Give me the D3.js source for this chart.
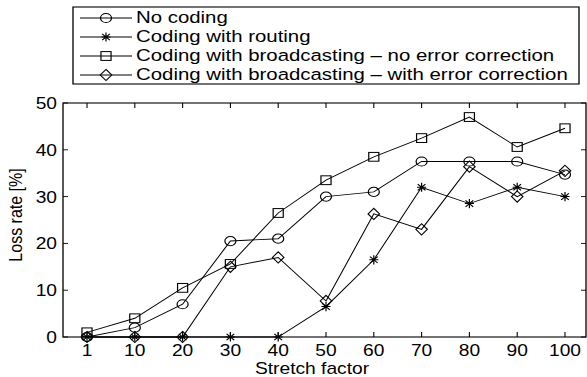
<!DOCTYPE html>
<html>
<head>
<meta charset="utf-8">
<script src="https://cdn.jsdelivr.net/npm/d3@7"></script>
<style>
  body { margin: 0; background: #fff; }
  text { font-family: "Liberation Sans", Arial, sans-serif; fill: #000; }
</style>
</head>
<body>
<svg id="chart"></svg>
<script>
// data
const stretch = ["1", "10", "20", "30", "40", "50", "60", "70", "80", "90", "100"];
const noCoding = [0, 2, 7, 20.5, 21, 30, 31, 37.5, 37.5, 37.5, 34.7];
const routing = [0, 0, 0, 0, 0, 6.5, 16.5, 32, 28.5, 32, 30];
const bcastNoEC = [1, 4, 10.5, 15.6, 26.5, 33.5, 38.5, 42.5, 47, 40.6, 44.6];
const bcastEC = [0, 0, 0, 15, 17, 7.7, 26.3, 23, 36.4, 30, 35.5];
const yTicks = [0, 10, 20, 30, 40, 50];

const series = [
  {name: "No coding", values: noCoding, marker: "circle"},
  {name: "Coding with routing", values: routing, marker: "star"},
  {name: "Coding with broadcasting \u2013 no error correction", values: bcastNoEC, marker: "square"},
  {name: "Coding with broadcasting \u2013 with error correction", values: bcastEC, marker: "diamond"}
];

// the picture is stretched sideways, so draw in a narrower frame and scale x
const sx = 1.2;
const width = 587;
const height = 377;
const marginTop = 103;
const marginBottom = 40;
const plotLeft = 63 / sx;
const plotRight = 586 / sx;

const svg = d3.select("#chart")
  .attr("width", width)
  .attr("height", height)
  .attr("viewBox", [0, 0, width, height]);

const g = svg.append("g").attr("transform", `scale(${sx},1)`);

const x = d3.scalePoint()
  .domain(stretch)
  .range([87 / sx, 565 / sx]);

const y = d3.scaleLinear()
  .domain([0, 50])
  .range([height - marginBottom, marginTop]);

function drawMarker(sel, type) {
  if (type === "circle") {
    sel.append("circle").attr("r", 4.6)
      .attr("fill", "none").attr("stroke", "#000");
  } else if (type === "square") {
    sel.append("rect").attr("x", -4.2).attr("y", -4.4).attr("width", 8.4).attr("height", 8.8)
      .attr("fill", "none").attr("stroke", "#000");
  } else if (type === "diamond") {
    sel.append("path").attr("d", "M0,-5.6L4.8,0L0,5.6L-4.8,0Z")
      .attr("fill", "none").attr("stroke", "#000");
  } else {
    sel.append("path").attr("d", "M0,-4.6V4.6M-3.8,0H3.8M-3.2,-3.2L3.2,3.2M-3.2,3.2L3.2,-3.2")
      .attr("fill", "none").attr("stroke", "#000");
  }
}

// ticks (inside, on all four sides)
const tickLen = 5;
const ticksG = g.append("g").attr("stroke", "#000").attr("stroke-width", 0.9);
stretch.forEach(s => {
  ticksG.append("line").attr("x1", x(s)).attr("x2", x(s))
    .attr("y1", y(0)).attr("y2", y(0) - tickLen);
  ticksG.append("line").attr("x1", x(s)).attr("x2", x(s))
    .attr("y1", y(50)).attr("y2", y(50) + tickLen);
});
yTicks.forEach(t => {
  ticksG.append("line").attr("x1", plotLeft).attr("x2", plotLeft + tickLen / sx)
    .attr("y1", y(t)).attr("y2", y(t));
  ticksG.append("line").attr("x1", plotRight).attr("x2", plotRight - tickLen / sx)
    .attr("y1", y(t)).attr("y2", y(t));
});

// series lines and markers
const line = d3.line()
  .x((d, i) => x(stretch[i]))
  .y(d => y(d));

series.forEach(s => {
  g.append("path")
    .attr("fill", "none")
    .attr("stroke", "#000")
    .attr("stroke-width", 0.9)
    .attr("d", line(s.values));
  s.values.forEach((v, i) => {
    const m = g.append("g").attr("transform", `translate(${x(stretch[i])},${y(v)})`);
    drawMarker(m, s.marker);
  });
});

// frame
g.append("rect")
  .attr("x", plotLeft).attr("y", y(50))
  .attr("width", plotRight - plotLeft).attr("height", y(0) - y(50))
  .attr("fill", "none").attr("stroke", "#000").attr("stroke-width", 1.1);

// tick labels
g.append("g").selectAll("text")
  .data(stretch)
  .join("text")
    .attr("x", d => x(d))
    .attr("y", y(0) + 19)
    .attr("text-anchor", "middle")
    .attr("font-size", 16)
    .text(d => d);

g.append("g").selectAll("text")
  .data(yTicks)
  .join("text")
    .attr("x", 57 / sx)
    .attr("y", d => y(d) + 6)
    .attr("text-anchor", "end")
    .attr("font-size", 16)
    .text(d => d);

// axis labels
g.append("text")
  .attr("x", 312 / sx)
  .attr("y", 374)
  .attr("text-anchor", "middle")
  .attr("font-size", 16)
  .text("Stretch factor");

g.append("text")
  .attr("transform", `translate(${22 / sx},${(y(0) + y(50)) / 2 - 5}) rotate(-90)`)
  .attr("text-anchor", "middle")
  .attr("font-size", 16)
  .text("Loss rate [%]");

// legend
const legend = g.append("g");
legend.append("rect")
  .attr("x", 73 / sx).attr("y", 7)
  .attr("width", (579 - 73) / sx).attr("height", 77)
  .attr("fill", "#fff").attr("stroke", "#000").attr("stroke-width", 1.1);

series.forEach((s, i) => {
  const rowY = 18 + i * 19;
  legend.append("line")
    .attr("x1", 80 / sx).attr("x2", 132 / sx)
    .attr("y1", rowY).attr("y2", rowY)
    .attr("stroke", "#000").attr("stroke-width", 0.9);
  const m = legend.append("g").attr("transform", `translate(${106 / sx},${rowY})`);
  drawMarker(m, s.marker);
  legend.append("text")
    .attr("x", 136 / sx)
    .attr("y", rowY + 5.5)
    .attr("font-size", 17)
    .text(s.name);
});
</script>
</body>
</html>
